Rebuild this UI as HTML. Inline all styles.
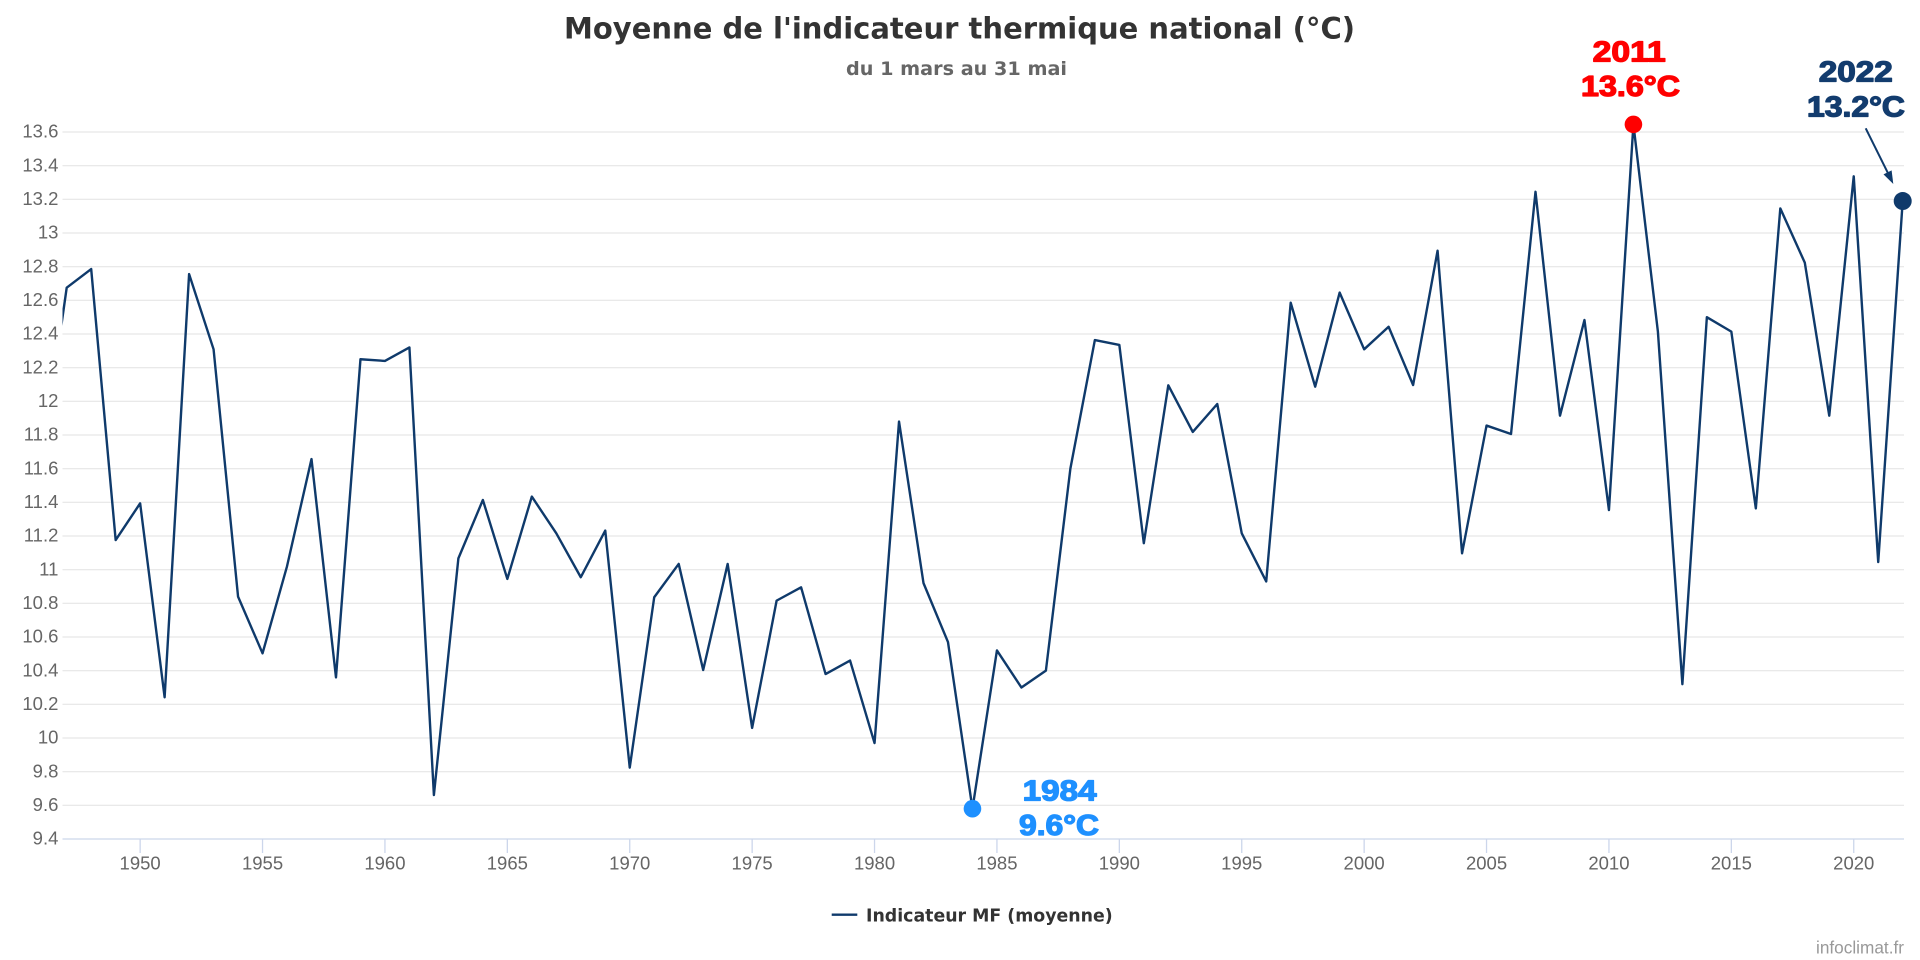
<!DOCTYPE html>
<html>
<head>
<meta charset="utf-8">
<style>
  html, body { margin: 0; padding: 0; background: #ffffff; }
  svg { display: block; }
</style>
</head>
<body>
<svg width="1920" height="960" viewBox="0 0 1920 960" xmlns="http://www.w3.org/2000/svg">
  <rect x="0" y="0" width="1920" height="960" fill="#ffffff"/>
  <defs>
    <clipPath id="plotclip">
      <rect x="62.5" y="0" width="1857.5" height="960"/>
    </clipPath>
  </defs>

  <!-- Title -->
  <text x="564" y="38.3" textLength="791" lengthAdjust="spacingAndGlyphs" font-family="'DejaVu Sans', 'Liberation Sans', sans-serif" font-weight="bold" font-size="29.5" fill="#333333">Moyenne de l'indicateur thermique national (°C)</text>
  <text x="846" y="75" textLength="221" lengthAdjust="spacingAndGlyphs" font-family="'DejaVu Sans', 'Liberation Sans', sans-serif" font-weight="bold" font-size="19" fill="#666666">du 1 mars au 31 mai</text>

  <!-- Gridlines -->
  <g stroke="#e6e6e6" stroke-width="1.2">
    <line x1="62.5" y1="132" x2="1904" y2="132"/>
    <line x1="62.5" y1="165.67" x2="1904" y2="165.67"/>
    <line x1="62.5" y1="199.33" x2="1904" y2="199.33"/>
    <line x1="62.5" y1="233" x2="1904" y2="233"/>
    <line x1="62.5" y1="266.67" x2="1904" y2="266.67"/>
    <line x1="62.5" y1="300.33" x2="1904" y2="300.33"/>
    <line x1="62.5" y1="334" x2="1904" y2="334"/>
    <line x1="62.5" y1="367.67" x2="1904" y2="367.67"/>
    <line x1="62.5" y1="401.33" x2="1904" y2="401.33"/>
    <line x1="62.5" y1="435" x2="1904" y2="435"/>
    <line x1="62.5" y1="468.67" x2="1904" y2="468.67"/>
    <line x1="62.5" y1="502.33" x2="1904" y2="502.33"/>
    <line x1="62.5" y1="536" x2="1904" y2="536"/>
    <line x1="62.5" y1="569.67" x2="1904" y2="569.67"/>
    <line x1="62.5" y1="603.33" x2="1904" y2="603.33"/>
    <line x1="62.5" y1="637" x2="1904" y2="637"/>
    <line x1="62.5" y1="670.67" x2="1904" y2="670.67"/>
    <line x1="62.5" y1="704.33" x2="1904" y2="704.33"/>
    <line x1="62.5" y1="738" x2="1904" y2="738"/>
    <line x1="62.5" y1="771.67" x2="1904" y2="771.67"/>
    <line x1="62.5" y1="805.33" x2="1904" y2="805.33"/>
  </g>
  <!-- X axis line and ticks -->
  <g stroke="#ccd6eb" stroke-width="1.3">
    <line x1="62.5" y1="839" x2="1904" y2="839"/>
    <line x1="140.14" y1="839" x2="140.14" y2="853"/>
    <line x1="262.54" y1="839" x2="262.54" y2="853"/>
    <line x1="384.94" y1="839" x2="384.94" y2="853"/>
    <line x1="507.34" y1="839" x2="507.34" y2="853"/>
    <line x1="629.74" y1="839" x2="629.74" y2="853"/>
    <line x1="752.14" y1="839" x2="752.14" y2="853"/>
    <line x1="874.54" y1="839" x2="874.54" y2="853"/>
    <line x1="996.94" y1="839" x2="996.94" y2="853"/>
    <line x1="1119.34" y1="839" x2="1119.34" y2="853"/>
    <line x1="1241.74" y1="839" x2="1241.74" y2="853"/>
    <line x1="1364.14" y1="839" x2="1364.14" y2="853"/>
    <line x1="1486.54" y1="839" x2="1486.54" y2="853"/>
    <line x1="1608.94" y1="839" x2="1608.94" y2="853"/>
    <line x1="1731.34" y1="839" x2="1731.34" y2="853"/>
    <line x1="1853.74" y1="839" x2="1853.74" y2="853"/>
  </g>

  <!-- Y labels -->
  <g font-family="'Liberation Sans', sans-serif" font-size="18.5" fill="#666666" text-anchor="end">
    <text x="58.4" y="137.7">13.6</text>
    <text x="58.4" y="171.4">13.4</text>
    <text x="58.4" y="205">13.2</text>
    <text x="58.4" y="238.7">13</text>
    <text x="58.4" y="272.4">12.8</text>
    <text x="58.4" y="306">12.6</text>
    <text x="58.4" y="339.7">12.4</text>
    <text x="58.4" y="373.4">12.2</text>
    <text x="58.4" y="407">12</text>
    <text x="58.4" y="440.7">11.8</text>
    <text x="58.4" y="474.4">11.6</text>
    <text x="58.4" y="508">11.4</text>
    <text x="58.4" y="541.7">11.2</text>
    <text x="58.4" y="575.4">11</text>
    <text x="58.4" y="609">10.8</text>
    <text x="58.4" y="642.7">10.6</text>
    <text x="58.4" y="676.4">10.4</text>
    <text x="58.4" y="710">10.2</text>
    <text x="58.4" y="743.7">10</text>
    <text x="58.4" y="777.4">9.8</text>
    <text x="58.4" y="811">9.6</text>
    <text x="58.4" y="844.7">9.4</text>
  </g>

  <!-- X labels -->
  <g font-family="'Liberation Sans', sans-serif" font-size="18.5" fill="#666666" text-anchor="middle">
    <text x="140.14" y="869.5">1950</text>
    <text x="262.54" y="869.5">1955</text>
    <text x="384.94" y="869.5">1960</text>
    <text x="507.34" y="869.5">1965</text>
    <text x="629.74" y="869.5">1970</text>
    <text x="752.14" y="869.5">1975</text>
    <text x="874.54" y="869.5">1980</text>
    <text x="996.94" y="869.5">1985</text>
    <text x="1119.34" y="869.5">1990</text>
    <text x="1241.74" y="869.5">1995</text>
    <text x="1364.14" y="869.5">2000</text>
    <text x="1486.54" y="869.5">2005</text>
    <text x="1608.94" y="869.5">2010</text>
    <text x="1731.34" y="869.5">2015</text>
    <text x="1853.74" y="869.5">2020</text>
  </g>

  <!-- Series -->
  <g clip-path="url(#plotclip)">
    <path fill="none" stroke="#0f3a6b" stroke-width="2.4" stroke-linejoin="round" stroke-linecap="round"
      d="M42.22,460.24 L66.70,287.71 L91.18,269.02 L115.66,540.03 L140.14,503.34 L164.62,697.25 L189.10,274.07 L213.58,349.31 L238.06,596.59 L262.54,653.32 L287.02,566.29 L311.50,459.07 L335.98,677.39 L360.46,359.25 L384.94,360.93 L409.42,347.46 L433.90,795.05 L458.38,558.38 L482.86,499.97 L507.34,578.92 L531.82,496.60 L556.30,533.30 L580.78,577.23 L605.26,530.61 L629.74,767.61 L654.22,597.26 L678.70,563.93 L703.18,669.98 L727.66,563.93 L752.14,727.89 L776.62,600.63 L801.10,587.33 L825.58,674.02 L850.06,660.56 L874.54,743.04 L899.02,421.53 L923.50,583.12 L947.98,642.04 L972.46,808.69 L996.94,650.46 L1021.42,687.49 L1045.90,670.66 L1070.38,468.66 L1094.86,340.06 L1119.34,344.94 L1143.82,543.23 L1168.30,385.34 L1192.78,431.96 L1217.26,404.02 L1241.74,533.30 L1266.22,581.44 L1290.70,302.69 L1315.18,386.68 L1339.66,292.59 L1364.14,349.31 L1388.62,326.76 L1413.10,385.00 L1437.58,250.67 L1462.06,553.33 L1486.54,425.57 L1511.02,433.98 L1535.50,191.76 L1559.98,415.64 L1584.46,320.02 L1608.94,510.07 L1633.42,124.43 L1657.90,331.64 L1682.38,684.12 L1706.86,317.16 L1731.34,331.64 L1755.82,508.39 L1780.30,208.42 L1804.78,262.62 L1829.26,415.64 L1853.74,176.27 L1878.22,562.08 L1902.70,201.02"/>
  </g>

  <!-- Markers -->
  <circle cx="1633.42" cy="124.43" r="8.8" fill="#ff0000"/>
  <circle cx="972.46" cy="808.69" r="8.8" fill="#1e90ff"/>
  <circle cx="1902.7" cy="201.02" r="9" fill="#0f3a6b"/>

  <!-- Arrow to 2022 -->
  <line x1="1865.7" y1="128.3" x2="1887.8" y2="172.8" stroke="#0f3a6b" stroke-width="2"/>
  <polygon points="1883.5,174.4 1891.6,170.4 1893.3,184" fill="#0f3a6b"/>

  <!-- Annotations -->
  <g font-family="'Liberation Sans', sans-serif" font-weight="bold" font-size="29" stroke-linejoin="round">
    <text x="1592.7" y="61.7" textLength="73" lengthAdjust="spacingAndGlyphs" fill="#ff0000" stroke="#ff0000" stroke-width="1.3">2011</text>
    <text x="1581" y="96" textLength="99" lengthAdjust="spacingAndGlyphs" fill="#ff0000" stroke="#ff0000" stroke-width="1.3">13.6°C</text>
    <text x="1818.8" y="81.7" textLength="74" lengthAdjust="spacingAndGlyphs" fill="#133c6e" stroke="#133c6e" stroke-width="1.3">2022</text>
    <text x="1807" y="116.7" textLength="98" lengthAdjust="spacingAndGlyphs" fill="#133c6e" stroke="#133c6e" stroke-width="1.3">13.2°C</text>
    <text x="1022.7" y="800.7" textLength="74" lengthAdjust="spacingAndGlyphs" fill="#1e90ff" stroke="#1e90ff" stroke-width="1.3">1984</text>
    <text x="1019" y="835" textLength="80" lengthAdjust="spacingAndGlyphs" fill="#1e90ff" stroke="#1e90ff" stroke-width="1.3">9.6°C</text>
  </g>

  <!-- Legend -->
  <line x1="831.7" y1="914.7" x2="857.3" y2="914.7" stroke="#0f3a6b" stroke-width="2.4"/>
  <text x="866" y="921.7" textLength="246.7" lengthAdjust="spacingAndGlyphs" font-family="'DejaVu Sans', 'Liberation Sans', sans-serif" font-weight="bold" font-size="17.4" fill="#333333">Indicateur MF (moyenne)</text>

  <!-- Credits -->
  <text x="1816" y="953.3" textLength="88" lengthAdjust="spacingAndGlyphs" font-family="'Liberation Sans', sans-serif" font-size="17.5" fill="#999999">infoclimat.fr</text>
</svg>
</body>
</html>
